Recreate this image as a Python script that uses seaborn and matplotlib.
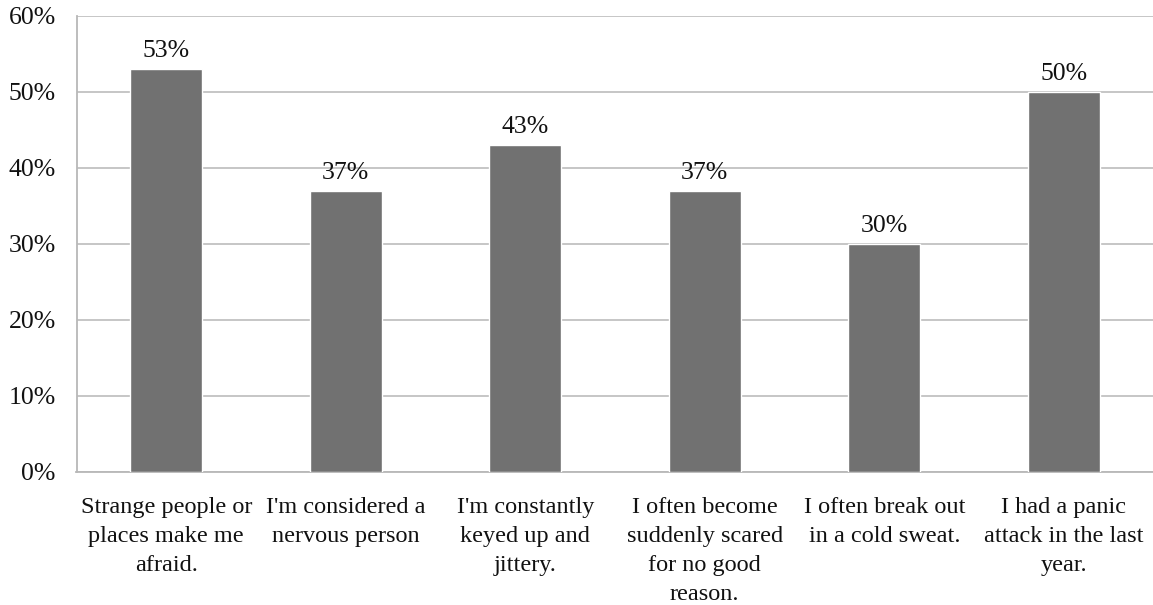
import pandas as pd
import matplotlib
matplotlib.use("Agg")
import matplotlib.pyplot as plt
import seaborn as sns
from matplotlib.ticker import FuncFormatter, MultipleLocator, FixedLocator

# survey statements and share of respondents agreeing
statements = [
    "Strange people or\nplaces make me\nafraid.",
    "I'm considered a\nnervous person",
    "I'm constantly\nkeyed up and\njittery.",
    "I often become\nsuddenly scared\nfor no good\nreason.",
    "I often break out\nin a cold sweat.",
    "I had a panic\nattack in the last\nyear.",
]
shares = [0.53, 0.37, 0.43, 0.37, 0.30, 0.50]
value_labels = ["53%", "37%", "43%", "37%", "30%", "50%"]

df = pd.DataFrame({"statement": statements, "share": shares})

sns.set_style("white")
plt.rcParams["font.family"] = ["Liberation Serif", "DejaVu Serif"]

fig = plt.figure(figsize=(11.53, 6.05), dpi=100)
ax = fig.add_axes([76.5 / 1153, 1 - 472 / 605, 1077 / 1153, 456 / 605])

sns.barplot(data=df, x="statement", y="share", color="#717171",
            saturation=1, width=0.40, ax=ax, zorder=3)

ax.bar_label(ax.containers[0], labels=value_labels, padding=5,
             fontsize=18.5, color="#111111")

ax.set_ylim(0, 0.6)
ax.set_xlim(-0.5, 5.5)
ax.yaxis.set_major_locator(MultipleLocator(0.1))
ax.yaxis.set_major_formatter(FuncFormatter(lambda v, _: f"{v:.0%}"))
ax.grid(axis="y", color="#c2c2c2", linewidth=1.3, zorder=0)
ax.set_axisbelow(True)

for side in ["top", "right"]:
    ax.spines[side].set_visible(False)
for side in ["left", "bottom"]:
    ax.spines[side].set_color("#b8b8b8")
    ax.spines[side].set_linewidth(1.3)

ax.set_xlabel("")
ax.set_ylabel("")
ax.tick_params(axis="x", length=0, pad=18, labelsize=17.5, colors="#111111")
ax.tick_params(axis="y", length=5, width=1.3, color="#c2c2c2", pad=10,
               labelsize=18.5, labelcolor="#111111")
for lbl in ax.get_xticklabels():
    lbl.set_linespacing(1.5)
ax.xaxis.set_minor_locator(FixedLocator([i + 0.5 for i in range(-1, 6)]))
ax.tick_params(axis="x", which="minor", length=5, width=1.3,
               color="#b8b8b8", direction="out")

fig.savefig("out.png", dpi=100)
